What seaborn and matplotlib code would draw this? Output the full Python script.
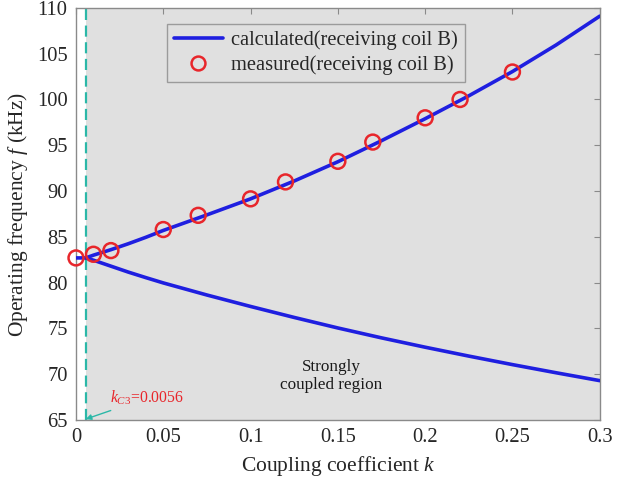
import matplotlib
matplotlib.use("Agg")
import matplotlib.pyplot as plt
import seaborn as sns
import pandas as pd
from matplotlib.lines import Line2D

# Calculated operating frequency, receiving coil B (two branches after splitting)
upper_k = [0, 0.0056, 0.01, 0.02, 0.03, 0.04, 0.05, 0.075, 0.1, 0.125, 0.15, 0.175,
           0.2, 0.225, 0.25, 0.275, 0.3]
upper_f = [82.7, 82.7, 83.0, 83.6, 84.25, 84.95, 85.7, 87.4, 89.15, 91.1, 93.2, 95.5,
           97.9, 100.4, 103.05, 105.95, 109.1]
lower_k = [0.0056, 0.01, 0.02, 0.03, 0.04, 0.05, 0.075, 0.1, 0.125, 0.15, 0.175,
           0.2, 0.225, 0.25, 0.275, 0.3]
lower_f = [82.7, 82.45, 81.8, 81.15, 80.55, 79.97, 78.65, 77.4, 76.2, 75.05, 73.97,
           72.95, 71.98, 71.05, 70.16, 69.3]

# Measured operating frequency
meas_k = [0, 0.01, 0.02, 0.05, 0.07, 0.1, 0.12, 0.15, 0.17, 0.2, 0.22, 0.25]
meas_f = [82.7, 83.1, 83.5, 85.8, 87.35, 89.15, 91.0, 93.25, 95.35, 98.0, 100.0, 103.0]

k_c3 = 0.0056
x_ticks = [0, 0.05, 0.1, 0.15, 0.2, 0.25, 0.3]
x_tick_labels = ["0", "0.05", "0.1", "0.15", "0.2", "0.25", "0.3"]
y_ticks = [65, 70, 75, 80, 85, 90, 95, 100, 105, 110]

sns.set_style("white")
plt.rcParams["font.family"] = ["Liberation Serif", "DejaVu Serif"]
plt.rcParams["mathtext.fontset"] = "custom"
plt.rcParams["mathtext.rm"] = "Liberation Serif"
plt.rcParams["mathtext.it"] = "Liberation Serif:italic"

fig = plt.figure(figsize=(6.28, 4.82), dpi=100)
ax = fig.add_axes([0.121, 0.1286, 0.834, 0.855])

blue = "#1f1fe0"
red = "#e8262b"
teal = "#2bb8a8"
spine_gray = "#8a8a8a"
text_col = "#262626"

# strongly coupled region shading
ax.axvspan(k_c3, 0.3, color="#e0e0e0", zorder=0, lw=0)
ax.axvline(k_c3, color=teal, lw=1.6, dashes=(5, 2.5), zorder=1)

up = pd.DataFrame({"k": upper_k, "f": upper_f})
lo = pd.DataFrame({"k": lower_k, "f": lower_f})
ms = pd.DataFrame({"k": meas_k, "f": meas_f})

sns.lineplot(data=up, x="k", y="f", ax=ax, color=blue, lw=2.6, sort=False,
             estimator=None, zorder=3)
sns.lineplot(data=lo, x="k", y="f", ax=ax, color=blue, lw=2.6, sort=False,
             estimator=None, zorder=3)
sns.scatterplot(data=ms, x="k", y="f", ax=ax, marker="o", s=115,
                facecolor="none", edgecolor=red, linewidth=1.8, zorder=4,
                clip_on=False)

ax.set_xlim(0, 0.3)
ax.set_ylim(65, 110)
ax.set_xticks(x_ticks)
ax.set_xticklabels(x_tick_labels)
ax.set_yticks(y_ticks)
ax.tick_params(axis="both", direction="in", length=4, color=spine_gray,
               labelsize=14.8, labelcolor=text_col, top=True, right=True, pad=6)
for s in ax.spines.values():
    s.set_color(spine_gray)
    s.set_linewidth(1.0)

ax.set_xlabel("Coupling coefficient $k$", fontsize=15.5, color=text_col, labelpad=5)
ax.set_ylabel("Operating frequency $f$ (kHz)", fontsize=15.5, color=text_col, labelpad=5)

handles = [
    Line2D([0], [0], color=blue, lw=2.6),
    Line2D([0], [0], marker="o", ls="none", markersize=10, markerfacecolor="none",
           markeredgecolor=red, markeredgewidth=1.8),
]
leg = ax.legend(handles, ["calculated(receiving coil B)", "measured(receiving coil B)"],
                loc="upper center", bbox_to_anchor=(0.458, 0.962), fontsize=14.8,
                frameon=True, fancybox=False, handlelength=2.4, handletextpad=0.4,
                borderpad=0.35, labelspacing=0.22, borderaxespad=0)
leg.get_frame().set_facecolor("#e0e0e0")
leg.get_frame().set_edgecolor(spine_gray)
leg.get_frame().set_linewidth(1.0)
for t in leg.get_texts():
    t.set_color(text_col)

ax.text(0.146, 69.8, "Strongly\ncoupled region", fontsize=12.3, ha="center",
        va="center", color="#1a1a1a", linespacing=1.2)

ax.annotate("$k_{C3}$=0.0056", xy=(k_c3, 65.1), xytext=(0.0195, 67.4),
            fontsize=11.3, color=red, va="center", ha="left",
            arrowprops=dict(arrowstyle="-|>", color=teal, lw=1.0,
                            mutation_scale=8, shrinkA=0, shrinkB=0))

fig.savefig("out.png", dpi=100)
